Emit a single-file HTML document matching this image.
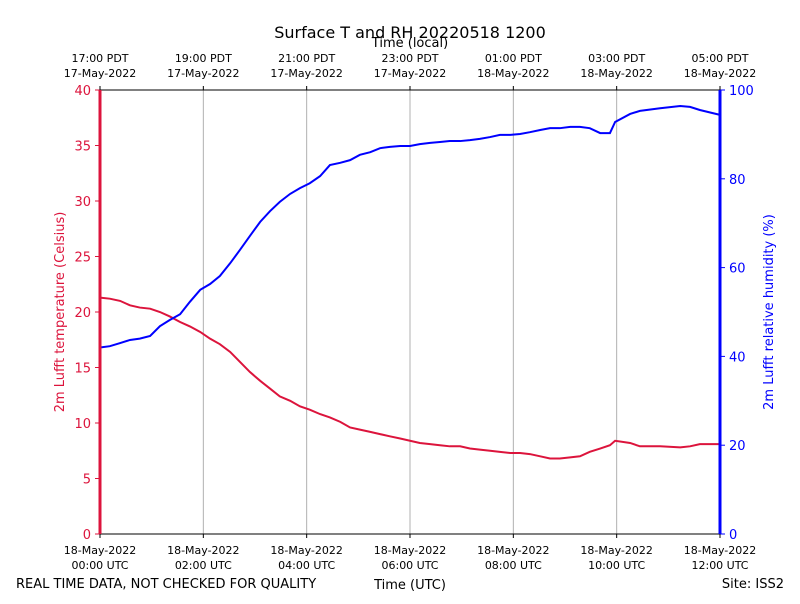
<!DOCTYPE html>
<html><head><meta charset="utf-8"><style>
body{margin:0;background:#fff;font-family:"DejaVu Sans","Liberation Sans",sans-serif}
svg text{font-family:"DejaVu Sans","Liberation Sans",sans-serif}
</style></head><body>
<svg id="chart" width="800" height="600" xmlns="http://www.w3.org/2000/svg">
<rect width="800" height="600" fill="#fff"/>
<text x="410" y="38" font-size="16" text-anchor="middle">Surface T and RH 20220518 1200</text>
<text x="410" y="47" font-size="13" text-anchor="middle">Time (local)</text>
<text x="410" y="589" font-size="13" text-anchor="middle">Time (UTC)</text>
<text x="16" y="588" font-size="13">REAL TIME DATA, NOT CHECKED FOR QUALITY</text>
<text x="784" y="588" font-size="13" text-anchor="end">Site: ISS2</text>
<text transform="translate(64,312) rotate(-90)" font-size="13" fill="#dc143c" text-anchor="middle">2m Lufft temperature (Celsius)</text>
<text transform="translate(773,312) rotate(-90)" font-size="13" fill="#0000ff" text-anchor="middle">2m Lufft relative humidity (%)</text>
<g id="grid"></g><g id="axes"></g><g id="series"></g>
<rect x="100" y="90" width="620" height="444" fill="none" stroke="#000" stroke-width="1"/>
<line x1="100" y1="90" x2="100" y2="534" stroke="#dc143c" stroke-width="3"/>
<line x1="720" y1="90" x2="720" y2="534" stroke="#0000ff" stroke-width="3"/>
</svg>
<script>
const hours=[0,.19,.39,.58,.77,.97,1.16,1.35,1.55,1.74,1.94,2.13,2.32,2.52,2.71,2.90,3.10,3.29,3.48,3.68,3.87,4.06,4.26,4.45,4.65,4.84,5.03,5.23,5.42,5.61,5.81,6.0,6.19,6.39,6.58,6.77,6.97,7.16,7.35,7.55,7.74,7.94,8.13,8.32,8.52,8.71,8.90,9.10,9.29,9.48,9.68,9.87,9.97,10.26,10.45,10.84,11.23,11.42,11.61,12];
const temp=[21.3,21.2,21,20.6,20.4,20.3,20,19.6,19.1,18.7,18.2,17.6,17.1,16.4,15.5,14.6,13.8,13.1,12.4,12,11.5,11.2,10.8,10.5,10.1,9.6,9.4,9.2,9,8.8,8.6,8.4,8.2,8.1,8,7.9,7.9,7.7,7.6,7.5,7.4,7.3,7.3,7.2,7,6.8,6.8,6.9,7,7.4,7.7,8,8.4,8.2,7.9,7.9,7.8,7.9,8.1,8.1];
const rh=[42,42.3,43,43.7,44,44.6,46.8,48.2,49.5,52.3,55,56.3,58.1,61,64,67.1,70.3,72.7,74.8,76.6,77.9,79,80.6,83.1,83.6,84.2,85.4,86,86.9,87.2,87.4,87.4,87.8,88.1,88.3,88.5,88.5,88.7,89,89.4,89.9,89.9,90.1,90.5,91,91.4,91.4,91.7,91.7,91.4,90.3,90.3,92.8,94.6,95.3,95.9,96.4,96.2,95.5,94.4];
const utcTicks=[0,2,4,6,8,10,12];
const utcLabels=["00:00 UTC","02:00 UTC","04:00 UTC","06:00 UTC","08:00 UTC","10:00 UTC","12:00 UTC"];
const localLabels=["17:00 PDT","19:00 PDT","21:00 PDT","23:00 PDT","01:00 PDT","03:00 PDT","05:00 PDT"];
const localDates=["17-May-2022","17-May-2022","17-May-2022","17-May-2022","18-May-2022","18-May-2022","18-May-2022"];
const tTicks=[0,5,10,15,20,25,30,35,40];
const rhTicks=[0,20,40,60,80,100];
const NS="http://www.w3.org/2000/svg";
const X=h=>100+h/12*620, YT=v=>534-v/40*444, YR=v=>534-v/100*444;
function mk(tag,attrs,parent,txt){const e=document.createElementNS(NS,tag);for(const k in attrs)e.setAttribute(k,attrs[k]);if(txt!==undefined)e.textContent=txt;document.getElementById(parent).appendChild(e);return e;}
utcTicks.forEach((h,i)=>{const x=X(h);
 if(i>0&&i<utcTicks.length-1){const g=mk('line',{x1:x,x2:x,y1:90,y2:534,stroke:'#b0b0b0','stroke-width':1},'grid');}
 mk('line',{x1:x,x2:x,y1:534,y2:538,stroke:'#000'},'axes');
 mk('line',{x1:x,x2:x,y1:90,y2:86,stroke:'#000'},'axes');
 let t=mk('text',{x:x,y:554,'font-size':11,'text-anchor':'middle'},'axes','18-May-2022');
 t=mk('text',{x:x,y:569,'font-size':11,'text-anchor':'middle'},'axes',utcLabels[i]);
 t=mk('text',{x:x,y:62,'font-size':11,'text-anchor':'middle'},'axes',localLabels[i]);
 t=mk('text',{x:x,y:77,'font-size':11,'text-anchor':'middle'},'axes',localDates[i]);
});
tTicks.forEach(v=>{const y=YT(v);mk('line',{x1:95,x2:100,y1:y,y2:y,stroke:'#dc143c'},'axes');
 const t=mk('text',{x:91,y:y+5,'font-size':13,fill:'#dc143c','text-anchor':'end'},'axes',v);});
rhTicks.forEach(v=>{const y=YR(v);mk('line',{x1:720,x2:725,y1:y,y2:y,stroke:'#0000ff'},'axes');
 const t=mk('text',{x:729,y:y+5,'font-size':13,fill:'#0000ff'},'axes',v);});
const tl=mk('polyline',{points:hours.map((h,i)=>X(h)+','+YT(temp[i])).join(' '),fill:'none',stroke:'#dc143c','stroke-width':2},'series');


const rl=mk('polyline',{points:hours.map((h,i)=>X(h)+','+YR(rh[i])).join(' '),fill:'none',stroke:'#0000ff','stroke-width':2},'series');


</script>
</body></html>
